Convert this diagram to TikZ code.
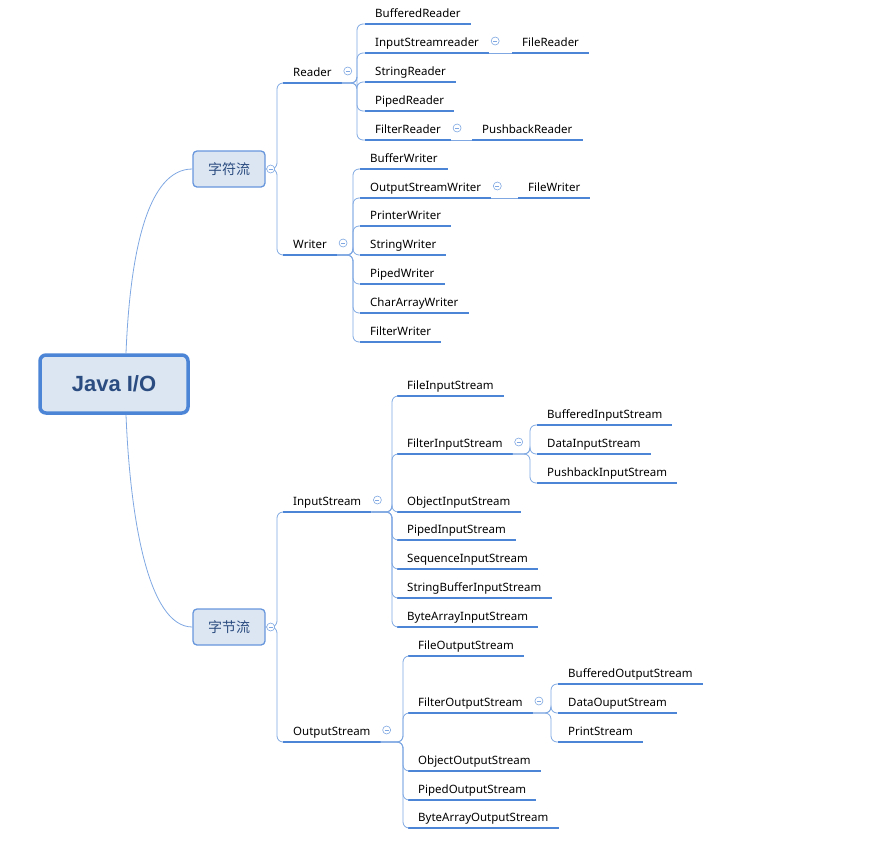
\documentclass[tikz,border=0pt]{standalone}
\usepackage{fontspec}
\setmainfont{Noto Sans}
\newfontfamily\cjk{Noto Sans CJK SC}
\newfontfamily\rootfont{Liberation Sans}
\usetikzlibrary{calc}

\definecolor{mapline}{HTML}{7FA8E2}
\definecolor{mapbar}{HTML}{4C84D6}
\definecolor{mapfill}{HTML}{DCE6F2}
\definecolor{maptext}{HTML}{2B4C80}

\tikzset{
	root/.style={draw=mapbar, line width=3.5pt, fill=mapfill, rounded corners=6pt,
		minimum width=148pt, minimum height=58pt, text=maptext,
		font=\rootfont\bfseries\fontsize{22}{26}\selectfont},
	sub/.style={draw=mapbar!85, line width=1.3pt, fill=mapfill, rounded corners=4pt,
		minimum width=72pt, minimum height=36pt, text=maptext,
		font=\fontsize{14}{16}\selectfont\cjk},
	topic/.style={anchor=south west, inner xsep=10pt, inner ysep=3pt,
		text height=8pt, text depth=3pt, font=\fontsize{11.5}{13}\selectfont,
		append after command={(\tikzlastnode.south west) edge[mapbar, line width=2pt] (\tikzlastnode.south east)}},
	fold/.style={circle, draw=mapline, fill=white, line width=0.6pt, inner sep=0pt, minimum size=8pt,
		path picture={\draw[mapline, line width=0.6pt] ($(path picture bounding box.center)+(-2pt,0)$) -- ++(4pt,0);}},
	branch/.style={draw=mapline, line width=0.8pt, rounded corners=6pt,
		to path={-| ($(\tikztotarget)+(-#1,0)$) -- (\tikztotarget)}},
	branch/.default=7pt,
	link/.style={draw=mapline, line width=0.8pt}
}

\begin{document}
\begin{tikzpicture}[x=1pt, y=-1pt]
	\useasboundingbox (0,0) rectangle (892,844);

	% main topics
	\node[root] (java) at (114,384) {Java I/O};
	\node[sub] (cf) at (229,169) {字符流};
	\node[sub] (zj) at (229,627) {字节流};

	\draw[link] ([xshift=12pt]java.north) .. controls +(4,-100) and +(-45,0) .. (cf.west);
	\draw[link] ([xshift=12pt]java.south) .. controls +(4,100) and +(-45,0) .. (zj.west);

	% Reader
	\node[topic] (reader) at (283,83) {Reader};
	\node[topic] (bufr) at (365,24) {BufferedReader};
	\node[topic] (isr) at (365,53) {InputStreamreader};
	\node[topic] (flr) at (512,53) {FileReader};
	\node[topic] (strr) at (365,82) {StringReader};
	\node[topic] (pipr) at (365,111) {PipedReader};
	\node[topic] (fltr) at (365,140) {FilterReader};
	\node[topic] (pbr) at (472,140) {PushbackReader};

	% Writer
	\node[topic] (writer) at (283,255) {Writer};
	\node[topic] (bufw) at (360,169) {BufferWriter};
	\node[topic] (osw) at (360,198) {OutputStreamWriter};
	\node[topic] (flw) at (518,198) {FileWriter};
	\node[topic] (prw) at (360,226) {PrinterWriter};
	\node[topic] (strw) at (360,255) {StringWriter};
	\node[topic] (pipw) at (360,284) {PipedWriter};
	\node[topic] (caw) at (360,313) {CharArrayWriter};
	\node[topic] (fltw) at (360,342) {FilterWriter};

	% InputStream
	\node[topic] (ins) at (283,512) {InputStream};
	\node[topic] (fis) at (397,396) {FileInputStream};
	\node[topic] (flis) at (397,454) {FilterInputStream};
	\node[topic] (bis) at (537,425) {BufferedInputStream};
	\node[topic] (dis) at (537,454) {DataInputStream};
	\node[topic] (pbis) at (537,483) {PushbackInputStream};
	\node[topic] (ois) at (397,512) {ObjectInputStream};
	\node[topic] (pis) at (397,540) {PipedInputStream};
	\node[topic] (sis) at (397,569) {SequenceInputStream};
	\node[topic] (sbis) at (397,598) {StringBufferInputStream};
	\node[topic] (bais) at (397,627) {ByteArrayInputStream};

	% OutputStream
	\node[topic] (outs) at (283,742) {OutputStream};
	\node[topic] (fos) at (408,656) {FileOutputStream};
	\node[topic] (flos) at (408,713) {FilterOutputStream};
	\node[topic] (bos) at (558,684) {BufferedOutputStream};
	\node[topic] (dos) at (558,713) {DataOuputStream};
	\node[topic] (ps) at (558,742) {PrintStream};
	\node[topic] (oos) at (408,771) {ObjectOutputStream};
	\node[topic] (pipos) at (408,800) {PipedOutputStream};
	\node[topic] (baos) at (408,828) {ByteArrayOutputStream};

	% branches
	\foreach \c in {reader,writer}
		\draw[branch=6pt] (cf.east) to (\c.south west);
	\foreach \c in {ins,outs}
		\draw[branch=6pt] (zj.east) to (\c.south west);
	\foreach \c in {bufr,isr,strr,pipr,fltr}
		\draw[branch=8pt] (reader.south east) to (\c.south west);
	\foreach \c in {bufw,osw,prw,strw,pipw,caw,fltw}
		\draw[branch] (writer.south east) to (\c.south west);
	\foreach \c in {fis,flis,ois,pis,sis,sbis,bais}
		\draw[branch=5pt] (ins.south east) to (\c.south west);
	\foreach \c in {bis,dis,pbis}
		\draw[branch] (flis.south east) to (\c.south west);
	\foreach \c in {fos,flos,oos,pipos,baos}
		\draw[branch=5pt] (outs.south east) to (\c.south west);
	\foreach \c in {bos,dos,ps}
		\draw[branch] (flos.south east) to (\c.south west);
	\draw[link] (isr.south east) -- (flr.south west);
	\draw[link] (osw.south east) -- (flw.south west);
	\draw[link] (fltr.south east) -- (pbr.south west);

	% fold markers
	\node[fold] (cf-f) at ([xshift=5pt]cf.east) {};
	\node[fold] (zj-f) at ([xshift=5pt]zj.east) {};
	\foreach \p in {reader,writer,ins,outs,isr,osw,fltr,flis,flos}
		\node[fold] (\p-f) at ([xshift=6pt,yshift=12pt]\p.south east) {};
\end{tikzpicture}
\end{document}
